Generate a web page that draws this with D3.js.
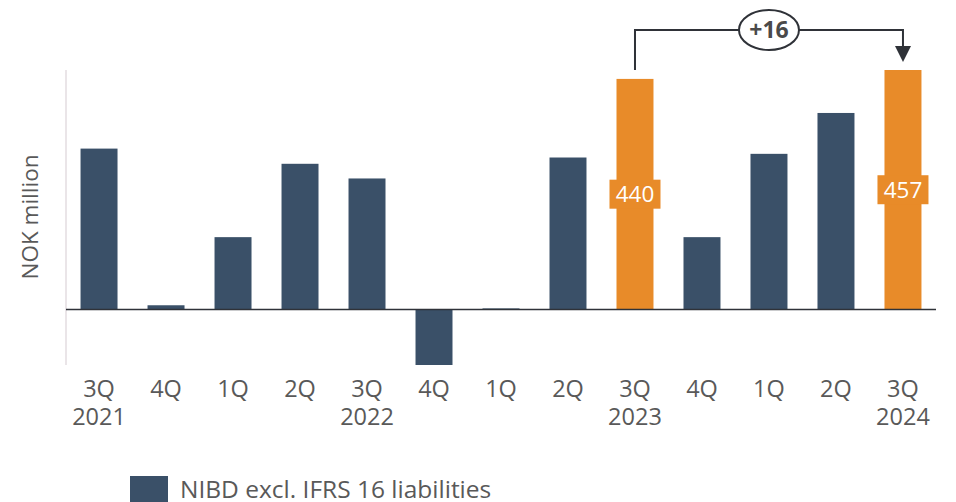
<!DOCTYPE html>
<html>
<head>
<meta charset="utf-8">
<script src="https://cdn.jsdelivr.net/npm/d3@7"></script>
<style>
  body { margin: 0; background: #fff; }
  svg { display: block; }
  svg text { font-family: "Open Sans", "Noto Sans", sans-serif; }
</style>
</head>
<body>
<svg></svg>
<script>
const quarters = ['3Q', '4Q', '1Q', '2Q', '3Q', '4Q', '1Q', '2Q', '3Q', '4Q', '1Q', '2Q', '3Q']
const years = ['2021', '', '', '', '2022', '', '', '', '2023', '', '', '', '2024']
const values = [307, 8, 138, 278, 250, -106, 2, 290, 440, 138, 297, 375, 457]
const highlight = [8, 12]   // indexes of the orange bars
const legendLabel = 'NIBD excl. IFRS 16 liabilities'
const axisTitle = 'NOK million'
const changeLabel = '+16'

const width = 956
const height = 502
const navy = '#3a5068'
const orange = '#e88b29'
const grey = '#595959'

const svg = d3.select('svg')
    .attr('width', width)
    .attr('height', height)

const ids = values.map((v, i) => i)

let xScale = d3.scaleBand()
    .domain(ids)
    .range([66, 936])
    .paddingInner(0.448)
    .paddingOuter(0.217)

let yScale = d3.scaleLinear()
    .domain([d3.min(values), d3.max(values)])
    .range([365, 70])

// left axis line (no ticks)
svg.append('line')
    .attr('x1', 66).attr('x2', 66)
    .attr('y1', 70).attr('y2', 365)
    .attr('stroke', '#e3dde0')
    .attr('stroke-width', 1.5)

svg.selectAll('rect.bar')
    .data(values)
    .enter()
    .append('rect')
    .attr('class', 'bar')
    .attr('x', (d, i) => xScale(i))
    .attr('width', xScale.bandwidth())
    .attr('y', d => yScale(Math.max(d, 0)))
    .attr('height', d => Math.abs(yScale(d) - yScale(0)))
    .attr('fill', (d, i) => highlight.includes(i) ? orange : navy)

// zero line
svg.append('line')
    .attr('x1', 66).attr('x2', 936)
    .attr('y1', yScale(0)).attr('y2', yScale(0))
    .attr('stroke', '#2f3238')
    .attr('stroke-width', 1.6)

// x axis labels, quarter on top and year below
let xAxis = d3.axisBottom(xScale).tickSize(0).tickFormat(i => quarters[i])
let gx = svg.append('g')
    .call(xAxis)
gx.select('.domain').remove()
gx.selectAll('text')
    .attr('y', 397)
    .attr('dy', 0)
    .attr('font-size', 23.5)
    .attr('fill', grey)
gx.selectAll('.tick').append('text')
    .text(i => years[i])
    .attr('y', 425)
    .attr('text-anchor', 'middle')
    .attr('font-size', 23.5)
    .attr('fill', grey)

// value labels in the orange bars
highlight.forEach(i => {
    let cx = xScale(i) + xScale.bandwidth() / 2
    let cy = (yScale(values[i]) + yScale(0)) / 2
    svg.append('rect')
        .attr('x', cx - 25.5).attr('y', cy - 14.5)
        .attr('width', 51).attr('height', 29)
        .attr('fill', orange)
    svg.append('text')
        .attr('x', cx).attr('y', cy)
        .attr('dy', '0.36em')
        .attr('text-anchor', 'middle')
        .attr('font-size', 22.5)
        .attr('fill', '#fff')
        .text(values[i])
})

// change annotation
let x1 = xScale(highlight[0]) + xScale.bandwidth() / 2
let x2 = xScale(highlight[1]) + xScale.bandwidth() / 2
let topY = 30
let endY = yScale(values[highlight[1]])
svg.append('path')
    .attr('d', `M${x1},${yScale(values[highlight[0]]) - 9}V${topY}H${x2}V${endY - 23}`)
    .attr('fill', 'none')
    .attr('stroke', '#2f3238')
    .attr('stroke-width', 2)
svg.append('path')
    .attr('d', `M${x2 - 8},${endY - 24}L${x2 + 8},${endY - 24}L${x2},${endY - 8}Z`)
    .attr('fill', '#2f3238')
svg.append('ellipse')
    .attr('cx', (x1 + x2) / 2).attr('cy', topY)
    .attr('rx', 30).attr('ry', 20)
    .attr('fill', '#fff')
    .attr('stroke', '#2f3238')
    .attr('stroke-width', 2)
svg.append('text')
    .attr('x', (x1 + x2) / 2).attr('y', topY)
    .attr('dy', '0.36em')
    .attr('text-anchor', 'middle')
    .attr('font-size', 23)
    .attr('font-weight', 'bold')
    .attr('fill', '#4a4a4a')
    .text(changeLabel)

// y axis title
svg.append('text')
    .attr('transform', 'translate(38, 217) rotate(-90)')
    .attr('text-anchor', 'middle')
    .attr('font-size', 22.5)
    .attr('fill', grey)
    .text(axisTitle)

// legend
svg.append('rect')
    .attr('x', 130).attr('y', 476)
    .attr('width', 38).attr('height', 30)
    .attr('fill', navy)
svg.append('text')
    .attr('x', 180).attr('y', 498)
    .attr('font-size', 24.5)
    .attr('fill', grey)
    .text(legendLabel)
</script>
</body>
</html>
